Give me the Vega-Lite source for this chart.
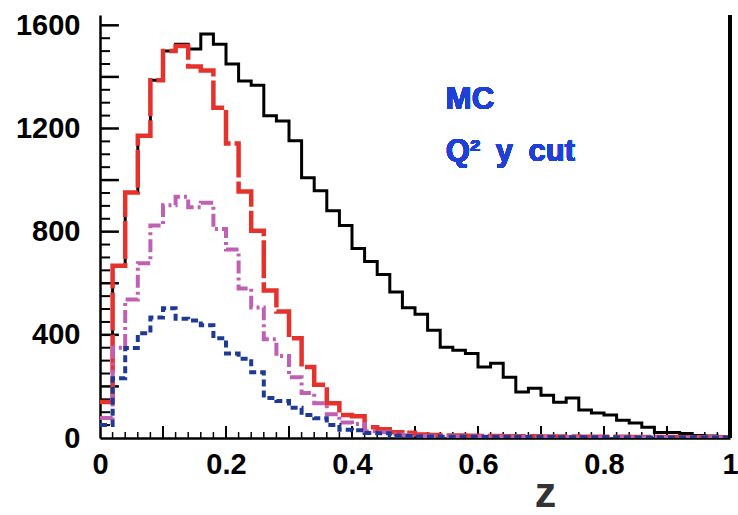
{
  "$schema": "https://vega.github.io/schema/vega-lite/v6.json",
  "width": 630,
  "height": 423,
  "autosize": {"type": "none"},
  "padding": {"left": 100, "top": 15, "right": 8, "bottom": 77},
  "background": "white",
  "config": {
    "view": {"stroke": null},
    "axis": {
      "grid": false,
      "labelFont": "Liberation Sans",
      "labelFontWeight": "bold",
      "labelFontSize": 29,
      "labelColor": "#000",
      "domainColor": "#000",
      "tickColor": "#000",
      "titleFont": "Liberation Sans"
    }
  },
  "datasets": {
    "hist": [
      {"z": 0.00, "all": 140, "cut1": 140, "cut2": 78, "cut3": 50},
      {"z": 0.02, "all": 668, "cut1": 668, "cut2": 350, "cut3": 232},
      {"z": 0.04, "all": 952, "cut1": 952, "cut2": 537, "cut3": 349},
      {"z": 0.06, "all": 1172, "cut1": 1172, "cut2": 678, "cut3": 406},
      {"z": 0.08, "all": 1387, "cut1": 1387, "cut2": 824, "cut3": 467},
      {"z": 0.10, "all": 1500, "cut1": 1500, "cut2": 902, "cut3": 503},
      {"z": 0.12, "all": 1527, "cut1": 1520, "cut2": 935, "cut3": 462},
      {"z": 0.14, "all": 1508, "cut1": 1440, "cut2": 895, "cut3": 456},
      {"z": 0.16, "all": 1566, "cut1": 1425, "cut2": 912, "cut3": 437},
      {"z": 0.18, "all": 1527, "cut1": 1280, "cut2": 810, "cut3": 387},
      {"z": 0.20, "all": 1450, "cut1": 1142, "cut2": 731, "cut3": 328},
      {"z": 0.22, "all": 1384, "cut1": 956, "cut2": 580, "cut3": 307},
      {"z": 0.24, "all": 1368, "cut1": 804, "cut2": 506, "cut3": 255},
      {"z": 0.26, "all": 1249, "cut1": 572, "cut2": 383, "cut3": 155},
      {"z": 0.28, "all": 1229, "cut1": 490, "cut2": 318, "cut3": 143},
      {"z": 0.30, "all": 1152, "cut1": 387, "cut2": 236, "cut3": 117},
      {"z": 0.32, "all": 1009, "cut1": 275, "cut2": 174, "cut3": 89},
      {"z": 0.34, "all": 959, "cut1": 206, "cut2": 135, "cut3": 77},
      {"z": 0.36, "all": 881, "cut1": 135, "cut2": 92, "cut3": 50},
      {"z": 0.38, "all": 824, "cut1": 89, "cut2": 60, "cut3": 32},
      {"z": 0.40, "all": 735, "cut1": 84, "cut2": 54, "cut3": 30},
      {"z": 0.42, "all": 684, "cut1": 42, "cut2": 26, "cut3": 19},
      {"z": 0.44, "all": 634, "cut1": 34, "cut2": 22, "cut3": 18},
      {"z": 0.46, "all": 566, "cut1": 22, "cut2": 14, "cut3": 9},
      {"z": 0.48, "all": 505, "cut1": 20, "cut2": 11, "cut3": 8},
      {"z": 0.50, "all": 480, "cut1": 14, "cut2": 8, "cut3": 6},
      {"z": 0.52, "all": 418, "cut1": 12, "cut2": 7, "cut3": 6},
      {"z": 0.54, "all": 352, "cut1": 10, "cut2": 7, "cut3": 5},
      {"z": 0.56, "all": 340, "cut1": 10, "cut2": 6, "cut3": 5},
      {"z": 0.58, "all": 328, "cut1": 9, "cut2": 6, "cut3": 5},
      {"z": 0.60, "all": 275, "cut1": 8, "cut2": 6, "cut3": 5},
      {"z": 0.62, "all": 290, "cut1": 8, "cut2": 5, "cut3": 4},
      {"z": 0.64, "all": 236, "cut1": 7, "cut2": 5, "cut3": 4},
      {"z": 0.66, "all": 178, "cut1": 7, "cut2": 5, "cut3": 4},
      {"z": 0.68, "all": 193, "cut1": 7, "cut2": 5, "cut3": 4},
      {"z": 0.70, "all": 166, "cut1": 6, "cut2": 4, "cut3": 4},
      {"z": 0.72, "all": 139, "cut1": 6, "cut2": 4, "cut3": 3},
      {"z": 0.74, "all": 155, "cut1": 6, "cut2": 4, "cut3": 3},
      {"z": 0.76, "all": 109, "cut1": 5, "cut2": 4, "cut3": 3},
      {"z": 0.78, "all": 97, "cut1": 5, "cut2": 3, "cut3": 3},
      {"z": 0.80, "all": 89, "cut1": 5, "cut2": 3, "cut3": 3},
      {"z": 0.82, "all": 69, "cut1": 5, "cut2": 3, "cut3": 2},
      {"z": 0.84, "all": 58, "cut1": 4, "cut2": 3, "cut3": 2},
      {"z": 0.86, "all": 42, "cut1": 4, "cut2": 3, "cut3": 2},
      {"z": 0.88, "all": 21, "cut1": 4, "cut2": 2, "cut3": 2},
      {"z": 0.90, "all": 21, "cut1": 4, "cut2": 2, "cut3": 2},
      {"z": 0.92, "all": 17, "cut1": 3, "cut2": 2, "cut3": 2},
      {"z": 0.94, "all": 10, "cut1": 3, "cut2": 2, "cut3": 2},
      {"z": 0.96, "all": 8, "cut1": 3, "cut2": 2, "cut3": 2},
      {"z": 0.98, "all": 5, "cut1": 3, "cut2": 2, "cut3": 2},
      {"z": 1.00, "all": 5, "cut1": 3, "cut2": 2, "cut3": 2}
    ],
    "xminor": [{"v":0.02},{"v":0.04},{"v":0.06},{"v":0.08},{"v":0.12},{"v":0.14},{"v":0.16},{"v":0.18},{"v":0.22},{"v":0.24},{"v":0.26},{"v":0.28},{"v":0.32},{"v":0.34},{"v":0.36},{"v":0.38},{"v":0.42},{"v":0.44},{"v":0.46},{"v":0.48},{"v":0.52},{"v":0.54},{"v":0.56},{"v":0.58},{"v":0.62},{"v":0.64},{"v":0.66},{"v":0.68},{"v":0.72},{"v":0.74},{"v":0.76},{"v":0.78},{"v":0.82},{"v":0.84},{"v":0.86},{"v":0.88},{"v":0.92},{"v":0.94},{"v":0.96},{"v":0.98}],
    "xmajor": [{"v":0.1},{"v":0.2},{"v":0.3},{"v":0.4},{"v":0.5},{"v":0.6},{"v":0.7},{"v":0.8},{"v":0.9}],
    "yminor": [{"v":50},{"v":100},{"v":150},{"v":250},{"v":300},{"v":350},{"v":450},{"v":500},{"v":550},{"v":650},{"v":700},{"v":750},{"v":850},{"v":900},{"v":950},{"v":1050},{"v":1100},{"v":1150},{"v":1250},{"v":1300},{"v":1350},{"v":1450},{"v":1500},{"v":1550}],
    "ymajor": [{"v":200},{"v":400},{"v":600},{"v":800},{"v":1000},{"v":1200},{"v":1400},{"v":1600}]
  },
  "data": {"name": "hist"},
  "resolve": {"axis": {"x": "independent", "y": "independent"}},
  "layer": [
    {
      "mark": {"type": "line", "interpolate": "step-after", "color": "#000000", "strokeWidth": 3, "clip": true},
      "encoding": {
        "x": {
          "field": "z", "type": "quantitative",
          "scale": {"domain": [0, 1], "nice": false, "zero": false},
          "axis": {"orient": "bottom", "title": null, "labels": false, "ticks": false, "domainWidth": 2.5}
        },
        "y": {
          "field": "all", "type": "quantitative",
          "scale": {"domain": [0, 1640], "nice": false},
          "axis": {"orient": "left", "title": null, "labels": false, "ticks": false, "domainWidth": 2.5}
        }
      }
    },
    {
      "data": {"name": "yminor"},
      "mark": {"type": "rule", "color": "#000000", "strokeWidth": 2},
      "encoding": {
        "y": {"field": "v", "type": "quantitative", "axis": null},
        "x": {"datum": 0, "type": "quantitative", "axis": null},
        "x2": {"datum": 0.016}
      }
    },
    {
      "data": {"name": "ymajor"},
      "mark": {"type": "rule", "color": "#000000", "strokeWidth": 2.5},
      "encoding": {
        "y": {"field": "v", "type": "quantitative", "axis": null},
        "x": {"datum": 0, "type": "quantitative", "axis": null},
        "x2": {"datum": 0.03}
      }
    },
    {
      "data": {"name": "xminor"},
      "mark": {"type": "rule", "color": "#000000", "strokeWidth": 1.5},
      "encoding": {
        "x": {"field": "v", "type": "quantitative", "axis": null},
        "y": {"datum": 0, "type": "quantitative", "axis": null},
        "y2": {"datum": 23}
      }
    },
    {
      "data": {"name": "xmajor"},
      "mark": {"type": "rule", "color": "#000000", "strokeWidth": 2},
      "encoding": {
        "x": {"field": "v", "type": "quantitative", "axis": null},
        "y": {"datum": 0, "type": "quantitative", "axis": null},
        "y2": {"datum": 47}
      }
    },
    {
      "mark": {"type": "line", "interpolate": "step-after", "color": "#e5322d", "strokeWidth": 4.5, "strokeDash": [38, 4], "clip": true},
      "encoding": {
        "x": {"field": "z", "type": "quantitative", "axis": null},
        "y": {"field": "cut1", "type": "quantitative", "axis": null}
      }
    },
    {
      "mark": {"type": "line", "interpolate": "step-after", "color": "#c060b2", "strokeWidth": 4, "strokeDash": [13, 4, 3, 4], "clip": true},
      "encoding": {
        "x": {
          "field": "z", "type": "quantitative",
          "axis": {
            "orient": "bottom", "domain": false, "ticks": false,
            "values": [0, 0.2, 0.4, 0.6, 0.8, 1], "format": "~g",
            "labelPadding": 12, "labelFlush": false,
            "title": "z", "titleFontSize": 43, "titleFontWeight": "bold", "titleColor": "#333333",
            "titleX": 445, "titleY": 77, "titleBaseline": "bottom", "titleAlign": "center"
          }
        },
        "y": {
          "field": "cut2", "type": "quantitative",
          "axis": {
            "orient": "left", "domain": false, "ticks": false, "title": null,
            "values": [0, 400, 800, 1200, 1600], "format": "d",
            "labelPadding": 20, "labelFlush": false
          }
        }
      }
    },
    {
      "mark": {"type": "line", "interpolate": "step-after", "color": "#1f3a96", "strokeWidth": 4, "strokeDash": [7, 4], "clip": true},
      "encoding": {
        "x": {"field": "z", "type": "quantitative", "axis": null},
        "y": {"field": "cut3", "type": "quantitative", "axis": null}
      }
    },
    {
      "mark": {"type": "rule", "color": "#000000", "strokeWidth": 2.5},
      "encoding": {
        "x": {"datum": 1, "type": "quantitative", "axis": null}
      }
    },
    {
      "mark": {"type": "text", "font": "Liberation Sans", "fontWeight": "bold", "fontSize": 31, "fill": "#1f3fd6", "align": "left", "baseline": "alphabetic"},
      "encoding": {
        "x": {"datum": 0.549, "type": "quantitative", "axis": null},
        "y": {"datum": 1275, "type": "quantitative", "axis": null},
        "text": {"value": "MC"}
      }
    },
    {
      "mark": {"type": "text", "font": "Liberation Sans", "fontWeight": "bold", "fontSize": 31, "fill": "#1f3fd6", "align": "left", "baseline": "alphabetic"},
      "encoding": {
        "x": {"datum": 0.549, "type": "quantitative", "axis": null},
        "y": {"datum": 1074, "type": "quantitative", "axis": null},
        "text": {"value": "Q²\u2002y\u2002cut"}
      }
    }
  ]
}
